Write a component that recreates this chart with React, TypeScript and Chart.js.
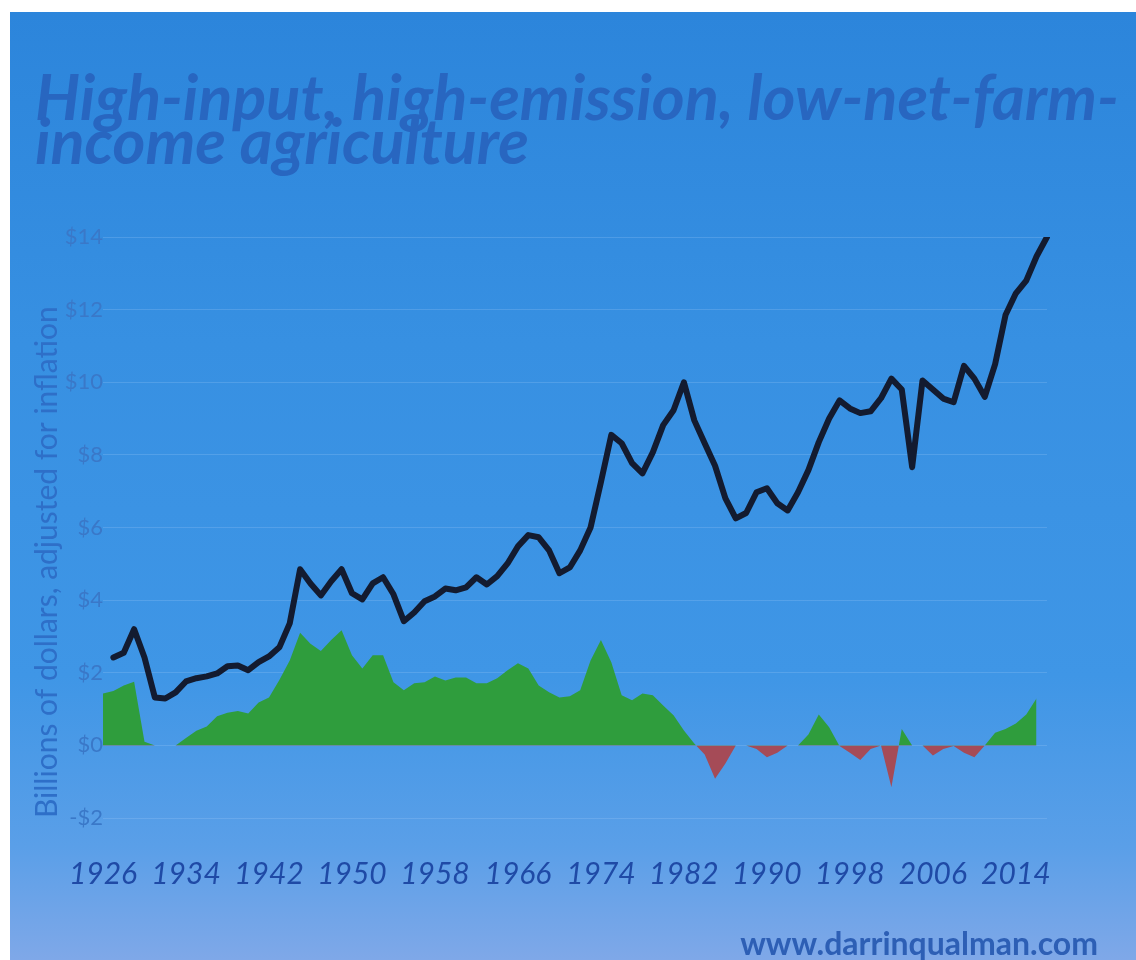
import React, { useEffect, useRef } from 'react';
import { Chart, registerables } from 'chart.js';

Chart.register(...registerables);

const years: string[] = [
  '1926','1927','1928','1929','1930','1931','1932','1933','1934','1935',
  '1936','1937','1938','1939','1940','1941','1942','1943','1944','1945',
  '1946','1947','1948','1949','1950','1951','1952','1953','1954','1955',
  '1956','1957','1958','1959','1960','1961','1962','1963','1964','1965',
  '1966','1967','1968','1969','1970','1971','1972','1973','1974','1975',
  '1976','1977','1978','1979','1980','1981','1982','1983','1984','1985',
  '1986','1987','1988','1989','1990','1991','1992','1993','1994','1995',
  '1996','1997','1998','1999','2000','2001','2002','2003','2004','2005',
  '2006','2007','2008','2009','2010','2011','2012','2013','2014','2015',
  '2016','2017',
];

// Input costs (black line), billions of dollars adjusted for inflation
const inputCosts: (number | null)[] = [
  null, 2.42, 2.55, 3.2, 2.42, 1.32, 1.29, 1.46, 1.76, 1.85,
  1.9, 1.98, 2.18, 2.2, 2.07, 2.29, 2.45, 2.7, 3.36, 4.85,
  4.46, 4.13, 4.52, 4.85, 4.19, 4.02, 4.46, 4.63, 4.16, 3.42,
  3.66, 3.97, 4.1, 4.32, 4.27, 4.35, 4.63, 4.43, 4.66, 5.01,
  5.48, 5.79, 5.73, 5.37, 4.74, 4.9, 5.37, 6.0, 7.25, 8.55,
  8.32, 7.77, 7.49, 8.07, 8.82, 9.23, 10.0, 8.95, 8.32, 7.7,
  6.8, 6.25, 6.4, 6.97, 7.08, 6.67, 6.47, 6.97, 7.58, 8.35,
  9.0, 9.5, 9.28, 9.15, 9.2, 9.56, 10.1, 9.8, 7.66, 10.05,
  9.8, 9.55, 9.45, 10.45, 10.1, 9.6, 10.5, 11.85, 12.45, 12.8,
  13.47, 14.0,
];

// Net farm income (green above zero, red below zero)
const netIncome: (number | null)[] = [
  1.43, 1.5, 1.65, 1.75, 0.1, 0, 0, 0, 0.2, 0.4,
  0.52, 0.8, 0.9, 0.95, 0.88, 1.18, 1.32, 1.8, 2.34, 3.1,
  2.8, 2.6, 2.9, 3.17, 2.48, 2.12, 2.48, 2.48, 1.74, 1.52,
  1.71, 1.74, 1.9, 1.79, 1.87, 1.87, 1.71, 1.71, 1.85, 2.07,
  2.26, 2.12, 1.65, 1.46, 1.32, 1.35, 1.52, 2.34, 2.9, 2.29,
  1.38, 1.24, 1.43, 1.38, 1.1, 0.83, 0.41, 0.05, -0.25, -0.92,
  -0.5, 0, 0, -0.1, -0.33, -0.2, 0, 0, 0.3, 0.85,
  0.5, -0.02, -0.2, -0.4, -0.1, 0, -1.15, 0.45, 0, 0,
  -0.28, -0.1, -0.02, -0.2, -0.33, 0, 0.35, 0.45, 0.6, 0.85,
  1.3, null,
];

const xTickYears: number[] = [1926, 1934, 1942, 1950, 1958, 1966, 1974, 1982, 1990, 1998, 2006, 2014];
const yTickValues: number[] = [-2, 0, 2, 4, 6, 8, 10, 12, 14];

const titleLines: string[] = ['High-input, high-emission, low-net-farm-', 'income agriculture'];
const yAxisTitle = 'Billions of dollars, adjusted for inflation';
const footerText = 'www.darrinqualman.com';

export default function App() {
  const canvasRef = useRef<HTMLCanvasElement | null>(null);

  useEffect(() => {
    const canvas = canvasRef.current;
    if (!canvas) return;
    const chart = new Chart(canvas, {
      type: 'line',
      data: {
        labels: years,
        datasets: [
          {
            label: 'Input costs',
            data: inputCosts,
            borderColor: '#131b30',
            borderWidth: 6,
            pointRadius: 0,
            fill: false,
            tension: 0,
            borderJoinStyle: 'round',
            borderCapStyle: 'round',
            order: 0,
          },
          {
            label: 'Net farm income',
            data: netIncome,
            borderWidth: 0,
            borderColor: 'rgba(0,0,0,0)',
            pointRadius: 0,
            tension: 0,
            fill: { target: 'origin', above: '#2f9d3d', below: '#a54b57' },
            order: 1,
          },
        ],
      },
      options: {
        animation: false,
        responsive: true,
        maintainAspectRatio: false,
        layout: { padding: { left: 25, right: 89, top: 225, bottom: 62 } },
        plugins: {
          legend: { display: false },
          tooltip: { enabled: false },
          title: { display: false },
        },
        scales: {
          x: {
            type: 'category',
            grid: { display: false },
            border: { display: false },
            ticks: {
              autoSkip: false,
              maxRotation: 0,
              minRotation: 0,
              padding: 30,
              color: '#1f4aa6',
              font: { family: 'Lato', size: 30, style: 'italic' },
              callback: function (this: any, val: any) {
                const y = Number(this.getLabelForValue(val));
                return xTickYears.includes(y) ? String(y) : '';
              },
            },
            afterFit: (s: any) => {
              s.height = 80;
            },
          },
          y: {
            min: -2,
            max: 14,
            afterBuildTicks: (s: any) => {
              s.ticks = yTickValues.map((v) => ({ value: v }));
            },
            grid: { color: 'rgba(175,210,250,0.22)', lineWidth: 1, drawTicks: false },
            border: { display: false },
            ticks: {
              padding: 0,
              color: '#3a78c8',
              font: { family: 'Lato', size: 22 },
              callback: (v: any) => (Number(v) < 0 ? '-$' + Math.abs(Number(v)) : '$' + v),
            },
            title: {
              display: true,
              text: yAxisTitle,
              align: 'start',
              color: '#2e6fc8',
              font: { family: 'Lato', size: 30, lineHeight: 0.8 },
              padding: { top: 0, bottom: 0 },
            },
            afterFit: (s: any) => {
              s.width = 68;
            },
          },
        },
      },
    } as any);
    return () => chart.destroy();
  }, []);

  return (
    <div
      style={{
        position: 'fixed',
        left: 10,
        top: 12,
        width: 1126,
        height: 948,
        overflow: 'hidden',
        background:
          'linear-gradient(180deg, #2c85db 0%, #3790e2 35%, #3f96e6 70%, #5a9fe8 88%, #7fa8e8 100%)',
      }}
    >
      <canvas ref={canvasRef} style={{ position: 'absolute', left: 0, top: 0, width: 1126, height: 948 }} />
      <div
        style={{
          position: 'absolute',
          left: 25,
          top: 62,
          fontFamily: 'Lato, sans-serif',
          fontWeight: 700,
          fontStyle: 'italic',
          fontSize: 63,
          lineHeight: '44px',
          color: '#2866c0',
          whiteSpace: 'pre',
        }}
      >
        {titleLines[0]}
        <br />
        {titleLines[1]}
      </div>
      <div
        style={{
          position: 'absolute',
          right: 38,
          top: 915,
          fontFamily: 'Lato, sans-serif',
          fontWeight: 700,
          fontSize: 32,
          lineHeight: '32px',
          color: '#2d5fb5',
          whiteSpace: 'pre',
        }}
      >
        {footerText}
      </div>
    </div>
  );
}
